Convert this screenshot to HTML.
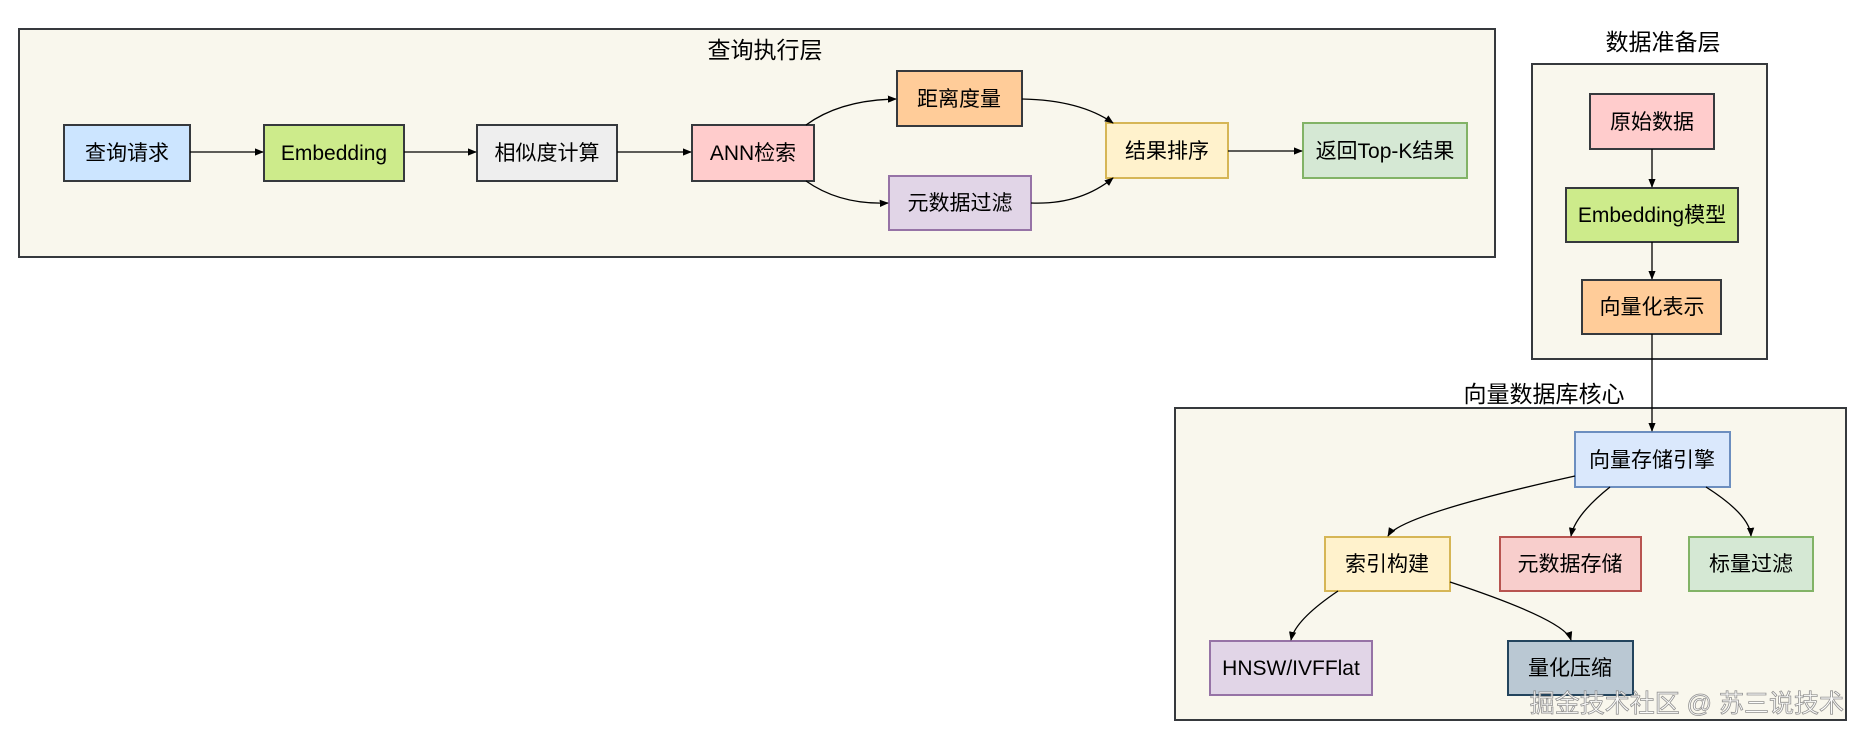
<!DOCTYPE html>
<html><head><meta charset="utf-8"><style>
body{margin:0;background:#fff;}
svg{display:block;font-family:"Liberation Sans","Noto Sans CJK SC",sans-serif;}
</style></head><body>
<svg width="1866" height="738" viewBox="0 0 1866 738" xmlns="http://www.w3.org/2000/svg">
<defs><marker id="a" viewBox="0 0 10 10" refX="9" refY="5" markerWidth="7" markerHeight="7" orient="auto"><path d="M0,1 L10,5 L0,9 Z" fill="#000"/></marker></defs>
<g stroke="#36393d" stroke-width="2" fill="#f9f7ed">
<rect x="19" y="29" width="1476" height="228"/>
<rect x="1532" y="64" width="235" height="295"/>
<rect x="1175" y="408" width="671" height="312"/>
</g>
<g font-size="23" text-anchor="middle" fill="#000">
<text x="765" y="58">查询执行层</text>
<text x="1663" y="50">数据准备层</text>
<text x="1544" y="402">向量数据库核心</text>
</g>
<g stroke-width="2">
<rect x="64" y="125" width="126" height="56" fill="#cce5ff" stroke="#36393d"/>
<rect x="264" y="125" width="140" height="56" fill="#cdeb8b" stroke="#36393d"/>
<rect x="477" y="125" width="140" height="56" fill="#eeeeee" stroke="#36393d"/>
<rect x="692" y="125" width="122" height="56" fill="#ffcccc" stroke="#36393d"/>
<rect x="897" y="71" width="125" height="55" fill="#ffcc99" stroke="#36393d"/>
<rect x="889" y="176" width="142" height="54" fill="#e1d5e7" stroke="#9673a6"/>
<rect x="1106" y="123" width="122" height="55" fill="#fff2cc" stroke="#d6b656"/>
<rect x="1303" y="123" width="164" height="55" fill="#d5e8d4" stroke="#82b366"/>
<rect x="1590" y="94" width="124" height="55" fill="#ffcccc" stroke="#36393d"/>
<rect x="1566" y="188" width="172" height="54" fill="#cdeb8b" stroke="#36393d"/>
<rect x="1582" y="280" width="139" height="54" fill="#ffcc99" stroke="#36393d"/>
<rect x="1575" y="432" width="155" height="55" fill="#dae8fc" stroke="#6c8ebf"/>
<rect x="1325" y="537" width="125" height="54" fill="#fff2cc" stroke="#d6b656"/>
<rect x="1500" y="537" width="141" height="54" fill="#f8cecc" stroke="#b85450"/>
<rect x="1689" y="537" width="124" height="54" fill="#d5e8d4" stroke="#82b366"/>
<rect x="1210" y="641" width="162" height="54" fill="#e1d5e7" stroke="#9673a6"/>
<rect x="1508" y="641" width="125" height="54" fill="#bac8d3" stroke="#23445d"/>
</g>
<g font-size="21" text-anchor="middle" fill="#000">
<text x="127" y="160">查询请求</text>
<text x="334" y="160">Embedding</text>
<text x="547" y="160">相似度计算</text>
<text x="753" y="160">ANN检索</text>
<text x="959" y="106">距离度量</text>
<text x="960" y="210">元数据过滤</text>
<text x="1167" y="158">结果排序</text>
<text x="1385" y="158">返回Top-K结果</text>
<text x="1652" y="129">原始数据</text>
<text x="1652" y="222">Embedding模型</text>
<text x="1652" y="314">向量化表示</text>
<text x="1652" y="467">向量存储引擎</text>
<text x="1387" y="571">索引构建</text>
<text x="1570" y="571">元数据存储</text>
<text x="1751" y="571">标量过滤</text>
<text x="1291" y="675">HNSW/IVFFlat</text>
<text x="1570" y="675">量化压缩</text>
</g>
<g fill="none" stroke="#000" stroke-width="1.3" marker-end="url(#a)">
<path d="M190 152 H263"/>
<path d="M404 152 H476"/>
<path d="M617 152 H691"/>
<path d="M1228 151 H1302"/>
<path d="M806 125 Q840 100 896 99"/>
<path d="M806 181 Q840 205 888 203"/>
<path d="M1022 99 Q1080 100 1113 123"/>
<path d="M1031 203 Q1080 205 1113 178"/>
<path d="M1652 149 V187"/>
<path d="M1652 242 V279"/>
<path d="M1652 334 V431"/>
<path d="M1575 476 Q1400 515 1388 536"/>
<path d="M1610 487 Q1575 515 1571 536"/>
<path d="M1706 487 Q1750 515 1751 536"/>
<path d="M1338 591 Q1295 620 1291 640"/>
<path d="M1450 582 Q1565 620 1571 640"/>
</g>
<text x="1844" y="712" font-size="25" text-anchor="end" fill="#fff" stroke="#888" stroke-width="0.8" opacity="0.9">掘金技术社区 @ 苏三说技术</text>
</svg>
</body></html>
